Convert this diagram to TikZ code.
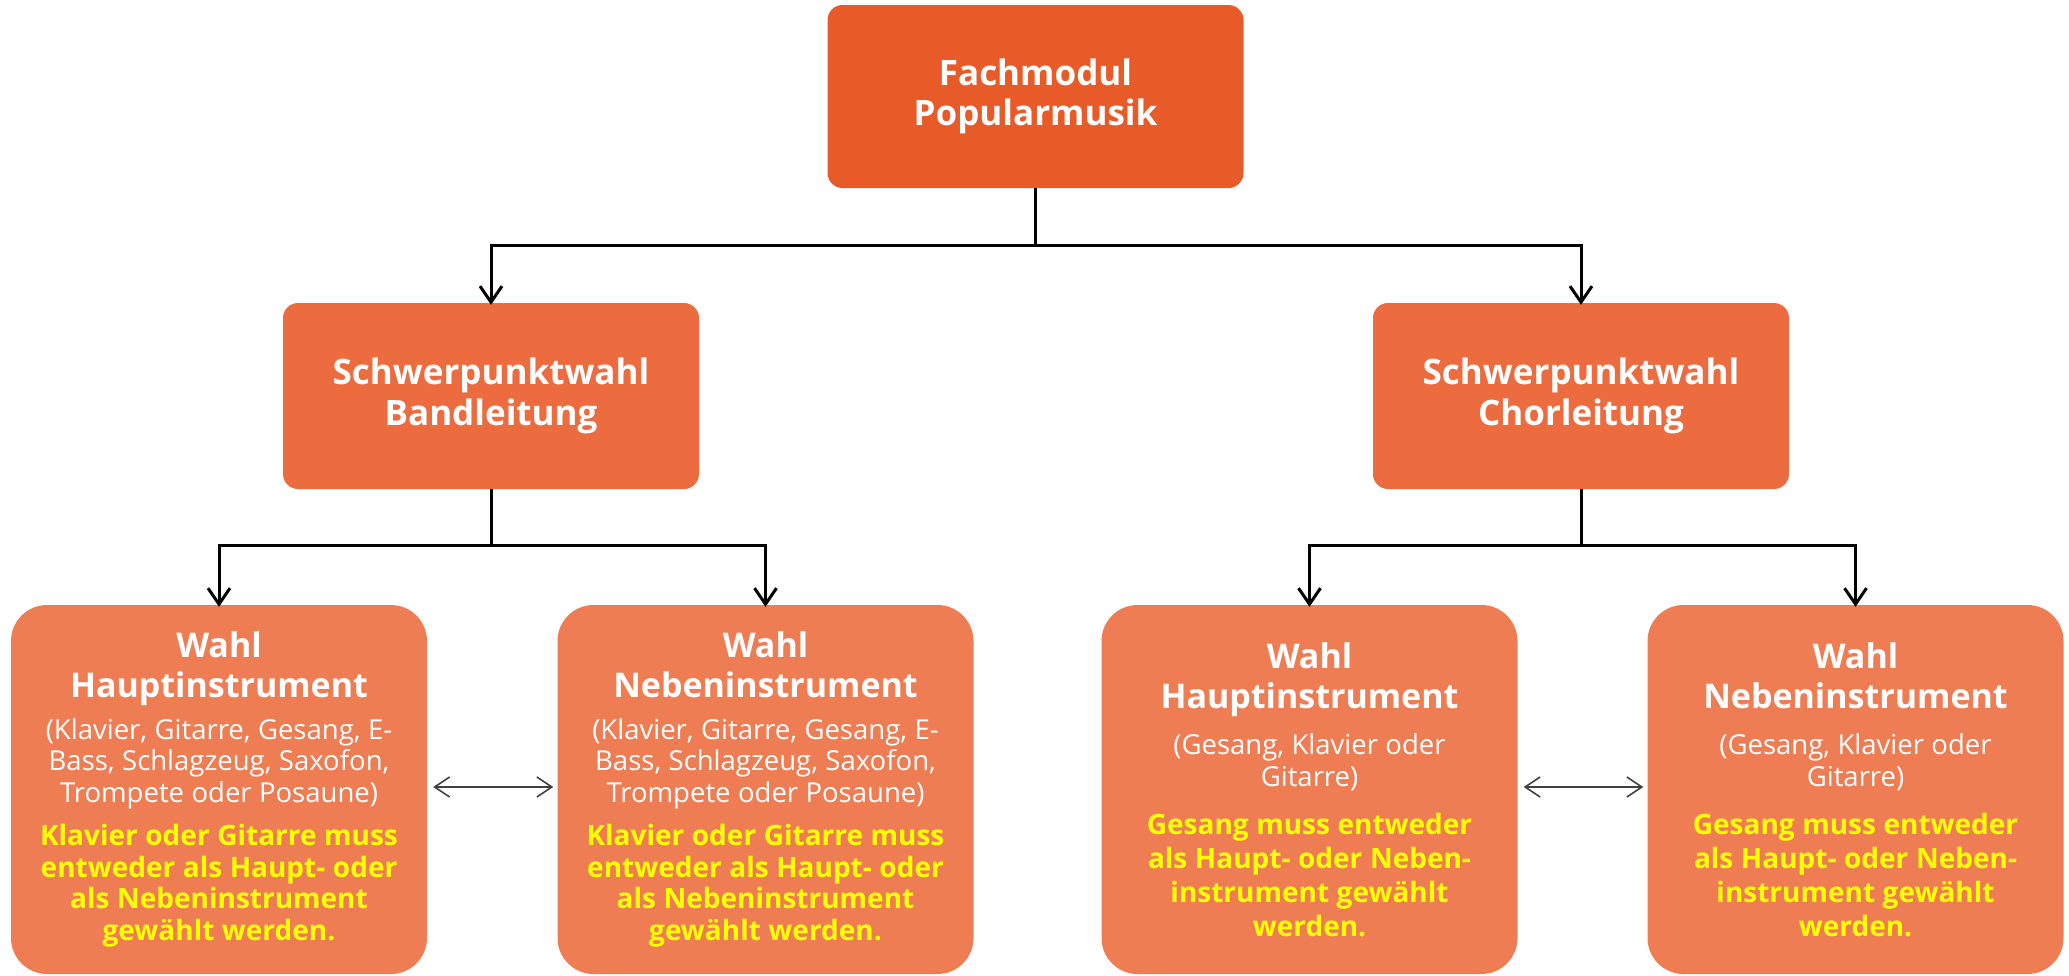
\documentclass[tikz,border=0pt]{standalone}
\usepackage{fontspec}
\setmainfont{Open Sans}
\usetikzlibrary{arrows.meta}
\definecolor{ctop}{RGB}{233,90,41}
\definecolor{cmid}{RGB}{236,108,64}
\definecolor{cbot}{RGB}{239,125,84}
\definecolor{cyel}{RGB}{255,255,0}
\definecolor{cgray}{RGB}{64,64,64}
\newcommand{\wsp}{\spaceskip=0.27em\relax}
\tikzset{
  topbox/.style={fill=ctop, rounded corners=15pt, minimum width=416pt, minimum height=183pt,
    text=white, align=center, font=\bfseries\fontsize{35}{40}\selectfont},
  midbox/.style={fill=cmid, rounded corners=15pt, minimum width=416pt, minimum height=186pt,
    text=white, align=center, font=\bfseries\fontsize{35}{41}\selectfont},
  botbox/.style={fill=cbot, rounded corners=36pt, minimum width=416pt, minimum height=369pt,
    text=white, text width=410pt, align=center, inner sep=0pt},
  conn/.style={line width=3pt, draw=black, -{Straight Barb[length=16pt,width=22pt,line width=3pt]}},
  dbl/.style={line width=1.6pt, draw=cgray, {Straight Barb[length=15pt,width=20pt]}-{Straight Barb[length=15pt,width=20pt]}},
}
\newcommand{\hdr}[1]{{\bfseries\fontsize{34}{40}\selectfont #1\par}}
\newcommand{\sub}[1]{{\fontsize{27.5}{31.5}\selectfont\wsp #1\par}}
\newcommand{\yel}[2]{{\color{cyel}\bfseries\fontsize{28}{#1}\selectfont\wsp #2\par}}
\begin{document}
\begin{tikzpicture}[x=1pt,y=-1pt]
\useasboundingbox (0,0) rectangle (2069,975);
\node[topbox] (top) at (1035.5,96.5) {Fachmodul\\Popularmusik};
\node[midbox] (ml) at (491,396) {Schwerpunktwahl\\Bandleitung};
\node[midbox] (mr) at (1581,396) {Schwerpunktwahl\\Chorleitung};
\node[botbox] (b1) at (219,789.5) {\hdr{Wahl\\Hauptinstrument}\vspace{10pt}\sub{(Klavier, Gitarre, Gesang, E-\\Bass, Schlagzeug, Saxofon,\\Trompete oder Posaune)}\vspace{12pt}\yel{31.5}{Klavier oder Gitarre muss\\entweder als Haupt- oder\\als Nebeninstrument\\gewählt werden.}};
\node[botbox] (b2) at (765.5,789.5) {\hdr{Wahl\\Nebeninstrument}\vspace{10pt}\sub{(Klavier, Gitarre, Gesang, E-\\Bass, Schlagzeug, Saxofon,\\Trompete oder Posaune)}\vspace{12pt}\yel{31.5}{Klavier oder Gitarre muss\\entweder als Haupt- oder\\als Nebeninstrument\\gewählt werden.}};
\node[botbox] (b3) at (1309.5,789.5) {\hdr{Wahl\\Hauptinstrument}\vspace{15pt}\sub{(Gesang, Klavier oder\\Gitarre)}\vspace{14pt}\yel{34}{Gesang muss entweder\\als Haupt- oder Neben-\\instrument gewählt\\werden.}};
\node[botbox] (b4) at (1855.5,789.5) {\hdr{Wahl\\Nebeninstrument}\vspace{15pt}\sub{(Gesang, Klavier oder\\Gitarre)}\vspace{14pt}\yel{34}{Gesang muss entweder\\als Haupt- oder Neben-\\instrument gewählt\\werden.}};
\coordinate (j1) at (1035.5,245);
\coordinate (j2) at (491,545);
\coordinate (j3) at (1581,545);
\draw[line width=3pt] (top.south) -- (j1);
\draw[conn] (j1) -| ([yshift=-2pt]ml.north);
\draw[conn] (j1) -| ([yshift=-2pt]mr.north);
\draw[line width=3pt] (ml.south) -- (j2);
\draw[conn] (j2) -| ([yshift=-2pt]b1.north);
\draw[conn] (j2) -| ([yshift=-2pt]b2.north);
\draw[line width=3pt] (mr.south) -- (j3);
\draw[conn] (j3) -| ([yshift=-2pt]b3.north);
\draw[conn] (j3) -| ([yshift=-2pt]b4.north);
\draw[dbl] ([xshift=6pt]b1.east |- 0,787) -- ([xshift=-4pt]b2.west |- 0,787);
\draw[dbl] ([xshift=6pt]b3.east |- 0,787) -- ([xshift=-4pt]b4.west |- 0,787);
\end{tikzpicture}
\end{document}
